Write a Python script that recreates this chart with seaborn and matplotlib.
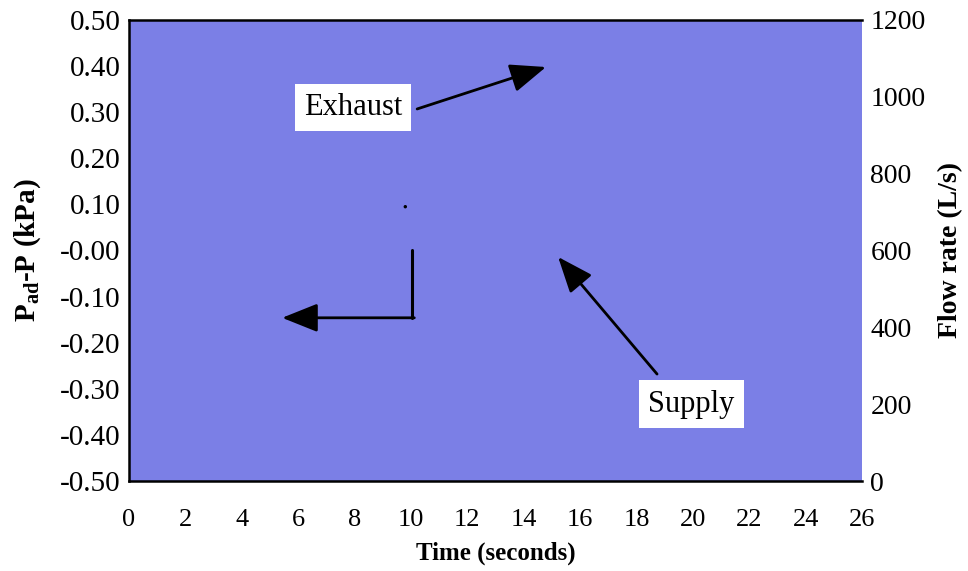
import matplotlib
matplotlib.use("Agg")
import matplotlib.pyplot as plt
import seaborn as sns
import pandas as pd

# ---- data ----
x_ticks = [0, 2, 4, 6, 8, 10, 12, 14, 16, 18, 20, 22, 24, 26]
y_left_ticks = [0.50, 0.40, 0.30, 0.20, 0.10, 0.00, -0.10, -0.20, -0.30, -0.40, -0.50]
y_left_labels = ["0.50", "0.40", "0.30", "0.20", "0.10", "-0.00", "-0.10", "-0.20",
                 "-0.30", "-0.40", "-0.50"]
y_right_ticks = [0, 200, 400, 600, 800, 1000, 1200]
point_time = [9.8]
point_dp = [0.095]

exhaust_label = (7.95, 0.31)
exhaust_arrow_tail = (10.22, 0.307)
exhaust_arrow_head = (14.79, 0.398)
supply_label = (19.94, -0.333)
supply_arrow_tail = (18.73, -0.268)
supply_arrow_head = (15.22, -0.014)
bracket_top = (10.04, 0.0)
bracket_corner = (10.04, -0.146)
bracket_head = (5.43, -0.146)

sns.set_style("white")
plt.rcParams["font.family"] = ["Liberation Serif", "DejaVu Serif"]
plt.rcParams["mathtext.fontset"] = "custom"
plt.rcParams["mathtext.rm"] = "Liberation Serif"
plt.rcParams["mathtext.bf"] = "Liberation Serif:bold"
for key in ["text.color", "axes.labelcolor", "xtick.color", "ytick.color"]:
    plt.rcParams[key] = "black"

fig, ax = plt.subplots(figsize=(9.68, 5.71), dpi=100)
fig.subplots_adjust(left=0.1333, right=0.8905, top=0.965, bottom=0.1576)

fill = "#7b7fe6"
ax.set_facecolor(fill)

df = pd.DataFrame({"t": point_time, "dp": point_dp})
sns.scatterplot(data=df, x="t", y="dp", ax=ax, color="black", s=6,
                edgecolor="none", zorder=5)

ax.set_xlim(0, 26)
ax.set_ylim(-0.5, 0.5)
ax.set_xticks(x_ticks)
ax.set_xticklabels([str(v) for v in x_ticks])
ax.set_yticks(y_left_ticks)
ax.set_yticklabels(y_left_labels)
ax.tick_params(axis="x", length=0, labelsize=19, pad=20)
ax.tick_params(axis="y", length=0, labelsize=21, pad=6)
ax.set_xlabel("Time (seconds)", fontsize=18, fontweight="bold", labelpad=8)
ax.set_ylabel(r"$\mathbf{P_{ad}}$" + "-P (kPa)", fontsize=21, fontweight="bold",
              labelpad=12)

for side in ["left", "top", "bottom"]:
    ax.spines[side].set_visible(True)
    ax.spines[side].set_color("black")
    ax.spines[side].set_linewidth(1.8)
ax.spines["right"].set_visible(False)

ax2 = ax.twinx()
ax2.set_ylim(0, 1200)
ax2.set_yticks(y_right_ticks)
ax2.set_yticklabels([str(v) for v in y_right_ticks])
ax2.tick_params(axis="y", length=0, labelsize=20, pad=6)
ax2.set_ylabel("Flow rate (L/s)", fontsize=20, fontweight="bold", labelpad=9)
for side in ["left", "top", "bottom", "right"]:
    ax2.spines[side].set_visible(False)
ax2.grid(False)
ax.grid(False)

# annotations
box = dict(boxstyle="square,pad=0.3", facecolor="white", edgecolor="none")
ax.text(*exhaust_label, "Exhaust", fontsize=22, ha="center", va="center", bbox=box,
        zorder=6)
ax.text(*supply_label, "Supply", fontsize=22, ha="center", va="center", bbox=box,
        zorder=6)

arrow = dict(arrowstyle="-|>,head_length=1.0,head_width=0.4", color="black", lw=2,
             mutation_scale=22, shrinkA=0, shrinkB=0)
ax.annotate("", xy=exhaust_arrow_head, xytext=exhaust_arrow_tail, arrowprops=arrow,
            zorder=6)
ax.annotate("", xy=supply_arrow_head, xytext=supply_arrow_tail, arrowprops=arrow,
            zorder=6)
ax.plot([bracket_top[0], bracket_corner[0]], [bracket_top[1], bracket_corner[1]],
        color="black", lw=2.2, zorder=6)
ax.annotate("", xy=bracket_head, xytext=(bracket_corner[0] + 0.08, bracket_corner[1]),
            arrowprops=arrow, zorder=6)

fig.savefig("out.png", dpi=100)
